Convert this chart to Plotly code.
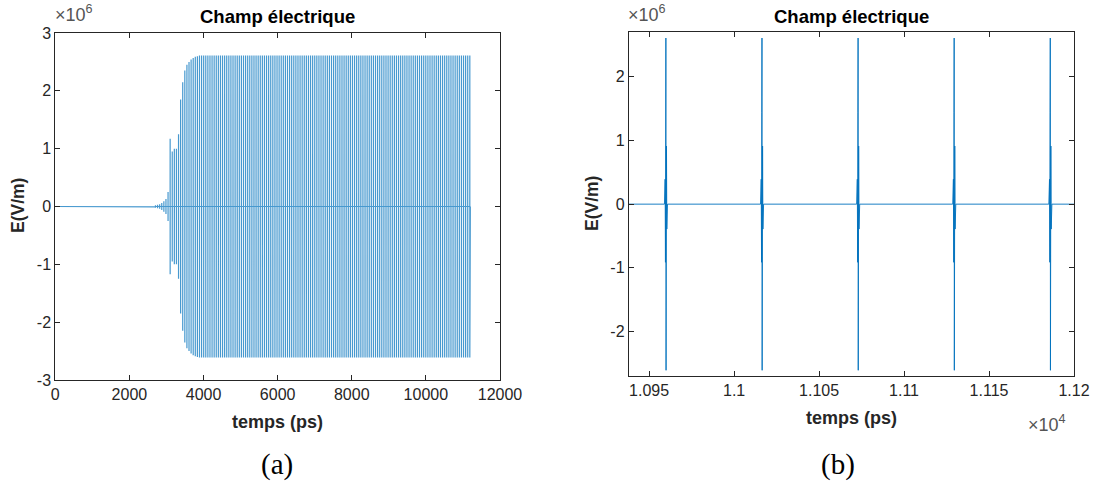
import plotly.graph_objects as go

# ---- values ----
# pulse train (mode-locked field), times in ps, amplitudes in 1e6 V/m
last_pulse_ps = 11186.1
pulse_period_ps = 56.55
pulse_amp = [0.02, 0.03, 0.04, 0.06, 0.09, 0.13, 0.25, 1.17, 0.95, 1.0, 1.0,
             1.25, 1.85, 2.15, 2.35, 2.45, 2.5, 2.54, 2.57, 2.59, 2.6, 2.61] + [2.61] * 129
# shape of a single pulse (offset in ps, normalised field)
pulse_offset_ps = [-0.9, -0.5, -0.3, -0.15, -0.05, 0.05, 0.15, 0.3, 0.5, 0.9]
pulse_shape = [0.0, 0.15, -0.35, 0.55, 1.0, -1.0, -0.55, 0.35, -0.15, 0.0]
# start transient near t = 0
start_t = [0.0, 28.0, 34.0, 40.0, 48.0]
start_e = [0.0, 0.23, -0.17, 0.05, 0.0]
end_t = 11200.0

left_xticks = [0, 2000, 4000, 6000, 8000, 10000, 12000]
left_yticks = [-3, -2, -1, 0, 1, 2, 3]
right_xticks = [10950, 11000, 11050, 11100, 11150, 11200]
right_xticklabels = ["1.095", "1.1", "1.105", "1.11", "1.115", "1.12"]
right_yticks = [-2, -1, 0, 1, 2]

# ---- build the series ----
n = len(pulse_amp)
t_all = list(start_t)
e_all = list(start_e)
for i, a in enumerate(pulse_amp):
    tc = last_pulse_ps - pulse_period_ps * (n - 1 - i)
    for o, s in zip(pulse_offset_ps, pulse_shape):
        t_all.append(tc + o)
        e_all.append(a * s * 1e6)
t_all.append(end_t)
e_all.append(0.0)

BLUE = "#0072BD"
AX = "#262626"
FONT = "Liberation Sans"

fig = go.Figure()
fig.add_trace(go.Scatter(x=t_all, y=e_all, mode="lines", xaxis="x", yaxis="y",
                         line=dict(color=BLUE, width=1.2), opacity=0.72, showlegend=False,
                         hoverinfo="skip"))
fig.add_trace(go.Scatter(x=t_all, y=e_all, mode="lines", xaxis="x2", yaxis="y2",
                         line=dict(color=BLUE, width=0.9), showlegend=False,
                         hoverinfo="skip"))

axis_common = dict(showline=True, linecolor=AX, linewidth=1, mirror="ticks",
                   ticks="inside", ticklen=5, tickcolor=AX, tickwidth=1,
                   showgrid=False, zeroline=False, automargin=False,
                   tickfont=dict(family=FONT, size=16, color=AX))

fig.update_layout(
    width=1095, height=482, margin=dict(l=0, r=0, t=0, b=0),
    paper_bgcolor="white", plot_bgcolor="white",
    xaxis=dict(domain=[0.0505, 0.4566], range=[0, 12000], tickvals=left_xticks,
               ticktext=[str(v) for v in left_xticks], anchor="y", **axis_common),
    yaxis=dict(domain=[0.2116, 0.9315], range=[-3e6, 3e6],
               tickvals=[v * 1e6 for v in left_yticks],
               ticktext=[str(v) for v in left_yticks], anchor="x", **axis_common),
    xaxis2=dict(domain=[0.5742, 0.9808], range=[10938, 11200], tickvals=right_xticks,
                ticktext=right_xticklabels, anchor="y2", **axis_common),
    yaxis2=dict(domain=[0.2199, 0.933], range=[-2.7e6, 2.7e6],
                tickvals=[v * 1e6 for v in right_yticks],
                ticktext=[str(v) for v in right_yticks], anchor="x2", **axis_common),
)

def ann(text, x, y, size, bold=False, color=AX, angle=0, family=FONT, xanchor="center"):
    if bold:
        text = "<b>" + text + "</b>"
    fig.add_annotation(text=text, x=x / 1095, y=1 - y / 482, xref="paper", yref="paper",
                       showarrow=False, textangle=angle, xanchor=xanchor, yanchor="middle",
                       font=dict(family=family, size=size, color=color))

# titles
ann("Champ électrique", 277.5, 17, 18.5, bold=True, color="#000000")
ann("Champ électrique", 851, 17, 18.5, bold=True, color="#000000")
# x labels
ann("temps (ps)", 277.5, 422, 18, bold=True)
ann("temps (ps)", 851, 418, 18, bold=True)
# y labels
ann("E(V/m)", 18, 206, 17.5, bold=True, angle=-90)
ann("E(V/m)", 592, 204, 17.5, bold=True, angle=-90)
# exponents
ann("×10<sup>6</sup>", 53, 13, 18, xanchor="left", color="#555555")
ann("×10<sup>6</sup>", 626, 13, 18, xanchor="left", color="#555555")
ann("×10<sup>4</sup>", 1026, 423, 18, xanchor="left", color="#555555")
# captions
ann("(a)", 277, 464, 29, color="#000000", family="Liberation Serif")
ann("(b)", 838, 464, 29, color="#000000", family="Liberation Serif")

fig.write_html("out.html", config={"displayModeBar": False},
               post_script="document.body.style.margin='0px';document.body.style.overflow='hidden';")
